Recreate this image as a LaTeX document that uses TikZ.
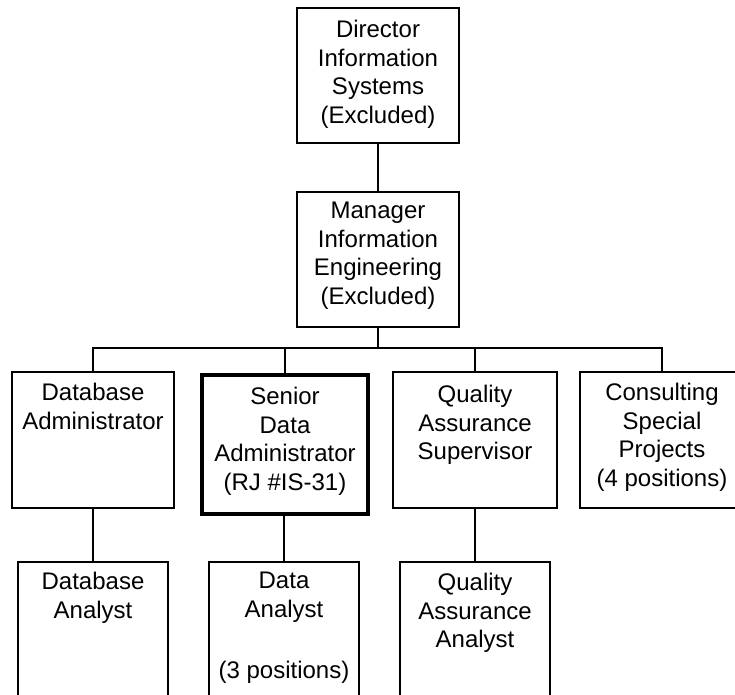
\documentclass[tikz,border=0pt]{standalone}
\usepackage{fontspec}
\setmainfont{Liberation Sans}
\begin{document}
\begin{tikzpicture}[x=1pt,y=1pt,
  box/.style={draw=black,line width=1.2pt,inner sep=0pt,outer sep=0pt,fill=none},
  thickbox/.style={box,line width=4pt},
  txt/.style={anchor=north,align=center,inner sep=0pt,outer sep=0pt,
    font=\fontsize{24}{28.7}\selectfont,execute at begin node={\rule{0pt}{20pt}}},
  conn/.style={draw=black,line width=1.2pt}]
\useasboundingbox (0,0) rectangle (735,-694);
% boxes
\node[box,minimum width=162pt,minimum height=135pt] (dir) at (378,-75.5) {};
\node[box,minimum width=162pt,minimum height=135pt] (mgr) at (378,-259.5) {};
\node[box,minimum width=162pt,minimum height=136pt] (dba) at (93,-440) {};
\node[thickbox,minimum width=166pt,minimum height=139pt] (sda) at (285,-444.5) {};
\node[box,minimum width=164pt,minimum height=136pt] (qas) at (475,-440) {};
\node[box,minimum width=164pt,minimum height=136pt] (csp) at (662,-440) {};
\node[box,minimum width=150pt,minimum height=158pt] (dban) at (93,-641) {};
\node[box,minimum width=150pt,minimum height=158pt] (dan) at (284,-641) {};
\node[box,minimum width=150pt,minimum height=158pt] (qaan) at (475,-641) {};
% texts
\node[txt] (dirT) at ([yshift=-12pt]dir.north) {Director\\Information\\Systems\\(Excluded)};
\node[txt] (mgrT) at ([yshift=-10pt]mgr.north) {Manager\\Information\\Engineering\\(Excluded)};
\node[txt] (dbaT) at ([yshift=-11pt]dba.north) {Database\\Administrator};
\node[txt] (sdaT) at ([yshift=-12pt]sda.north) {Senior\\Data\\Administrator\\(RJ \#IS-31)};
\node[txt] (qasT) at ([yshift=-13pt]qas.north) {Quality\\Assurance\\Supervisor};
\node[txt] (cspT) at ([yshift=-11pt]csp.north) {Consulting\\Special\\Projects\\(4 positions)};
\node[txt] (dbanT) at ([yshift=-10pt]dban.north) {Database\\Analyst};
\node[txt] (danT) at ([yshift=-10pt]dan.north) {Data\\Analyst\\[33pt](3 positions)};
\node[txt] (qaanT) at ([yshift=-11pt]qaan.north) {Quality\\Assurance\\Analyst};
% connectors
\coordinate (bus) at (0,-348);
\draw[conn] (dir.south) -- (mgr.north);
\draw[conn] (mgr.south) |- (bus -| dba.north) -- (dba.north);
\draw[conn] (mgr.south) |- (bus -| sda.north) -- (sda.north);
\draw[conn] (mgr.south) |- (bus -| qas.north) -- (qas.north);
\draw[conn] (mgr.south) |- (bus -| csp.north) -- (csp.north);
\draw[conn] (dba.south) -- (dban.north);
\draw[conn] (sda.south -| dan.north) -- (dan.north);
\draw[conn] (qas.south) -- (qaan.north);
\end{tikzpicture}
\end{document}
